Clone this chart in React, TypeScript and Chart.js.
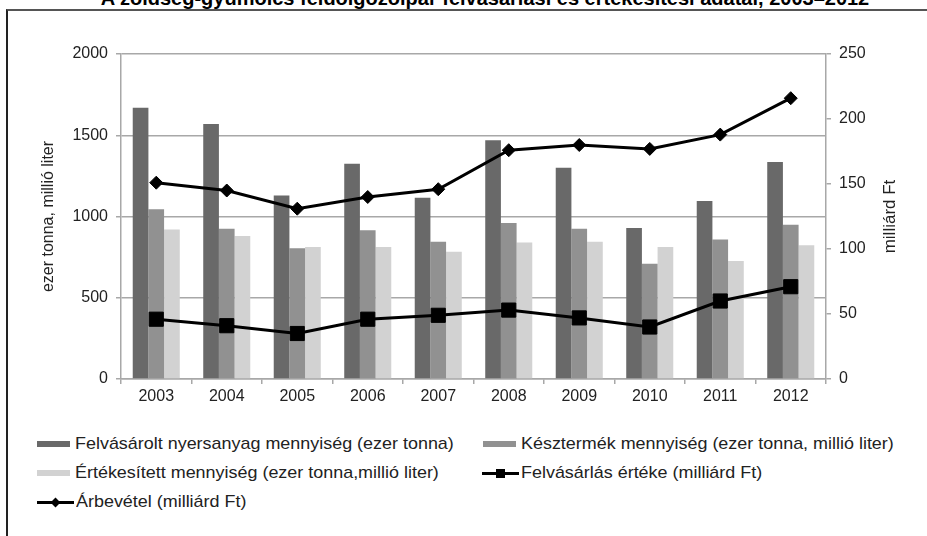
import React, { useEffect, useRef } from "react";
import { Chart, registerables } from "chart.js";

Chart.register(...registerables);

const titleText = "A zöldség-gyümölcs feldolgozóipar felvásárlási és értékesítési adatai, 2003–2012";
const years = ["2003", "2004", "2005", "2006", "2007", "2008", "2009", "2010", "2011", "2012"];
const seriesNames = [
  "Felvásárolt nyersanyag mennyiség (ezer tonna)",
  "Késztermék mennyiség (ezer tonna, millió liter)",
  "Értékesített mennyiség (ezer tonna,millió liter)",
  "Felvásárlás értéke (milliárd Ft)",
  "Árbevétel (milliárd Ft)",
];
const felvasarolt = [1670, 1570, 1130, 1325, 1115, 1470, 1300, 930, 1095, 1335];
const kesztermek = [1045, 925, 805, 915, 845, 960, 925, 710, 858, 950];
const ertekesitett = [920, 880, 812, 812, 783, 840, 845, 812, 726, 823];
const felvasarlasErteke = [46, 41, 35, 46, 49, 53, 47, 40, 60, 71];
const arbevetel = [151, 145, 131, 140, 146, 176, 180, 177, 188, 216];
const leftAxisTitle = "ezer tonna, millió liter";
const rightAxisTitle = "milliárd Ft";

const barColors = ["#696969", "#919191", "#d2d2d2"];
const gridColor = "#a8a8a8";
const FONT = "'Liberation Sans', Arial, sans-serif";

const rightTitlePlugin = {
  id: "rightTitle",
  afterDraw(chart: any) {
    const ctx = chart.ctx;
    const a = chart.chartArea;
    ctx.save();
    ctx.translate(a.right + 64, (a.top + a.bottom) / 2);
    ctx.rotate(-Math.PI / 2);
    ctx.font = "17px " + FONT;
    ctx.fillStyle = "#222";
    ctx.textAlign = "center";
    ctx.textBaseline = "middle";
    ctx.fillText(rightAxisTitle, 0, 0);
    ctx.restore();
  },
};

function LegendMarker({ idx }: { idx: number }) {
  if (idx < 3) {
    return <div style={{ width: 33, height: 6, background: barColors[idx], flex: "none" }} />;
  }
  return (
    <div style={{ position: "relative", width: 37, height: 12, flex: "none" }}>
      <div style={{ position: "absolute", left: 0, top: 4.5, width: 37, height: 3, background: "#000" }} />
      {idx === 3 ? (
        <div style={{ position: "absolute", left: 14, top: 1.5, width: 9, height: 9, background: "#000" }} />
      ) : (
        <div style={{ position: "absolute", left: 15, top: 2.5, width: 7, height: 7, background: "#000", transform: "rotate(45deg)" }} />
      )}
    </div>
  );
}

export default function App() {
  const canvasRef = useRef<HTMLCanvasElement | null>(null);

  useEffect(() => {
    if (!canvasRef.current) return;
    const tickFont = { family: FONT, size: 16 };
    const chart = new Chart(canvasRef.current, {
      type: "bar",
      data: {
        labels: years,
        datasets: [
          { type: "line", label: seriesNames[3], data: felvasarlasErteke, yAxisID: "y1", borderColor: "#000", backgroundColor: "#000", borderWidth: 3, pointStyle: "rect", pointRadius: 10, pointBorderWidth: 1, pointBorderColor: "#000", pointBackgroundColor: "#000", order: 0, tension: 0 },
          { type: "line", label: seriesNames[4], data: arbevetel, yAxisID: "y1", borderColor: "#000", backgroundColor: "#000", borderWidth: 3, pointStyle: "rectRot", pointRadius: 6.5, pointBorderWidth: 1, pointBorderColor: "#000", pointBackgroundColor: "#000", order: 0, tension: 0 },
          { type: "bar", label: seriesNames[0], data: felvasarolt, yAxisID: "y", backgroundColor: barColors[0], categoryPercentage: 0.667, barPercentage: 1, order: 1 },
          { type: "bar", label: seriesNames[1], data: kesztermek, yAxisID: "y", backgroundColor: barColors[1], categoryPercentage: 0.667, barPercentage: 1, order: 1 },
          { type: "bar", label: seriesNames[2], data: ertekesitett, yAxisID: "y", backgroundColor: barColors[2], categoryPercentage: 0.667, barPercentage: 1, order: 1 },
        ] as any,
      },
      options: {
        animation: false,
        responsive: true,
        maintainAspectRatio: false,
        layout: { padding: { left: 39, right: 0, top: 54, bottom: 0 } },
        plugins: { legend: { display: false }, tooltip: { enabled: false }, title: { display: false } },
        scales: {
          x: {
            offset: true,
            grid: { display: true, drawOnChartArea: false, drawTicks: true, tickLength: 5, color: gridColor, lineWidth: 1.5, offset: true },
            border: { display: true, color: gridColor, width: 1.5 },
            ticks: { color: "#222", font: tickFont, padding: 3, maxRotation: 0 },
            afterFit: (s: any) => { s.height = 41; },
          },
          y: {
            position: "left",
            min: 0,
            max: 2000,
            ticks: { stepSize: 500, color: "#222", font: tickFont, padding: 8, callback: (v: any) => String(v) },
            grid: { color: gridColor, lineWidth: 1.5, tickLength: 5 },
            border: { display: true, color: gridColor, width: 1.5 },
            title: { display: true, text: leftAxisTitle, color: "#222", font: { family: FONT, size: 16 }, padding: 0 },
            afterFit: (s: any) => { s.width = 82; },
          },
          y1: {
            position: "right",
            min: 0,
            max: 250,
            ticks: { stepSize: 50, color: "#222", font: tickFont, padding: 8, callback: (v: any) => String(v) },
            grid: { drawOnChartArea: false, color: gridColor, lineWidth: 1.5, tickLength: 5 },
            border: { display: true, color: gridColor, width: 1.5 },
            afterFit: (s: any) => { s.width = 101; },
          },
        },
      } as any,
      plugins: [rightTitlePlugin],
    });
    return () => chart.destroy();
  }, []);

  const legendPos = [
    { x: 37, y: 444 },
    { x: 483, y: 444 },
    { x: 37, y: 473 },
    { x: 482, y: 473 },
    { x: 37, y: 502 },
  ];

  return (
    <div style={{ position: "absolute", left: 0, top: 0, width: 927, height: 536, overflow: "hidden", background: "#fff", fontFamily: FONT }}>
      <div
        style={{
          position: "absolute",
          left: 485,
          top: -12,
          transform: "translateX(-50%)",
          whiteSpace: "nowrap",
          fontWeight: "bold",
          fontSize: 20,
          lineHeight: "20px",
          color: "#000",
        }}
      >
        {titleText}
      </div>
      <div style={{ position: "absolute", left: 6, top: 9, width: 940, height: 600, borderLeft: "2px solid #222", borderTop: "2px solid #555" }} />
      <div style={{ position: "absolute", left: 0, top: 0, width: 927, height: 420 }}>
        <canvas ref={canvasRef} />
      </div>
      {legendPos.map((p, i) => (
        <div key={i} style={{ position: "absolute", left: p.x, top: p.y - 11, height: 22, display: "flex", alignItems: "center", whiteSpace: "nowrap", fontSize: 17, color: "#222" }}>
          <LegendMarker idx={i} />
          <span style={{ marginLeft: i < 3 ? 5 : 2, display: "inline-block", transform: "scaleX(1.055)", transformOrigin: "left center" }}>{seriesNames[i]}</span>
        </div>
      ))}
    </div>
  );
}
